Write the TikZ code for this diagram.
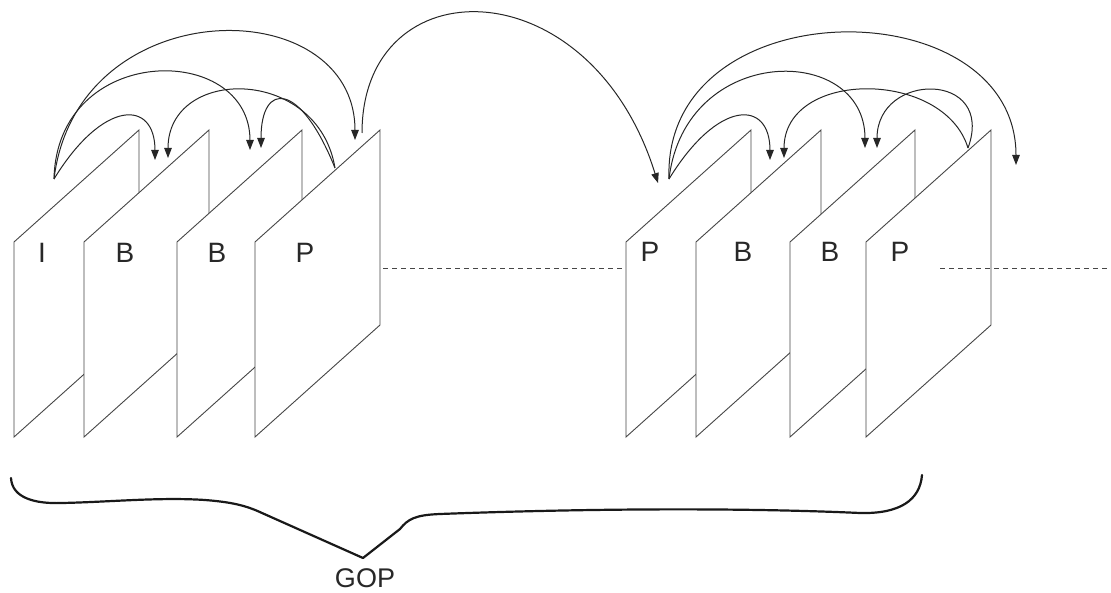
\documentclass[tikz,border=0pt]{standalone}
\usepackage{fontspec}
\setsansfont{Liberation Sans}
\usetikzlibrary{arrows.meta}
\definecolor{linegray}{RGB}{70,70,70}
\definecolor{textgray}{RGB}{40,40,40}

\begin{document}
\begin{tikzpicture}[
    x=1pt, y=-1pt,
    vframe/.style={draw=linegray, fill=white, line width=0.9pt, line join=miter},
    ftype/.style={text=textgray, font=\sffamily\fontsize{28}{30}\selectfont, inner sep=0pt},
    pred/.style={-{Triangle[length=10pt,width=7.5pt]}, draw=black!85, line width=1pt},
    gopline/.style={draw=linegray, line width=0.8pt, dash pattern=on 5pt off 4pt},
    gopbrace/.style={draw=black!90, line width=2.2pt, line join=round, line cap=round}
]
\useasboundingbox (0,0) rectangle (1111,593);

% dashed link between the two groups
\coordinate (gapL) at (383,268);
\coordinate (gapR) at (626,268);
\draw[gopline] (gapL) -- (gapR);

% frames, back to front
\foreach \x/\n in {14/f1,84/f2,177/f3,255/f4,626/f5,696/f6,790/f7,866/f8}{
  \draw[vframe] (\x,437) coordinate (\n) -- (\x,242) -- ++(125,-112) -- ++(0,195) -- cycle;
}

% frame types
\node[ftype] (tI)  at (42,253)  {I};
\node[ftype] (tB1) at (125,253) {B};
\node[ftype] (tB2) at (217,253) {B};
\node[ftype] (tP1) at (305,253) {P};
\node[ftype] (tP2) at (650,252) {P};
\node[ftype] (tB3) at (743,252) {B};
\node[ftype] (tB4) at (830,252) {B};
\node[ftype] (tP3) at (900,252) {P};

% dashed line after the second group
\coordinate (tailL) at (940,268);
\coordinate (tailR) at (1111,268);
\draw[gopline] (tailL) -- (tailR);

% arrow ends
\coordinate (s1) at (54,179);
\coordinate (s2) at (335,168);
\coordinate (s3) at (362,133);
\coordinate (s4) at (669,179);
\coordinate (s5) at (968,148);
\coordinate (e1) at (155,160);
\coordinate (e2) at (168,158);
\coordinate (e3) at (250,150);
\coordinate (e4) at (261,148);
\coordinate (e5) at (355,140);
\coordinate (e6) at (658,183);
\coordinate (e7) at (770,160);
\coordinate (e8) at (784,158);
\coordinate (e9) at (865,148);
\coordinate (e10) at (877,148);
\coordinate (e11) at (1016,165);

% references, first group
\draw[pred] (s1) .. controls (103,99) and (155,99) .. (e1);
\draw[pred] (s1) .. controls (57,42) and (250,42) .. (e3);
\draw[pred] (s1) .. controls (77,-10) and (355,-10) .. (e5);
\draw[pred] (s2) .. controls (318,66) and (168,66) .. (e2);
\draw[pred] (s2) .. controls (300,81) and (261,81) .. (e4);
\draw[pred] (s3) .. controls (362,-35) and (590,-35) .. (e6);

% references, second group
\draw[pred] (s4) .. controls (718,99) and (770,99) .. (e7);
\draw[pred] (s4) .. controls (685,43) and (865,43) .. (e9);
\draw[pred] (s4) .. controls (662,-13) and (1016,-13) .. (e11);
\draw[pred] (s5) .. controls (944,69) and (784,69) .. (e8);
\draw[pred] (s5) .. controls (996,71) and (877,71) .. (e10);

% GOP brace
\coordinate (bL) at (11,478);
\coordinate (bTip) at (363,558);
\coordinate (bR) at (922,475);
\draw[gopbrace] (bL) .. controls (12,498) and (35,504) .. (62,503)
  .. controls (110,502) and (160,497) .. (205,500)
  .. controls (230,502) and (245,505) .. (262,513)
  -- (bTip) -- (400,529)
  .. controls (408,519) and (415,515) .. (440,514)
  .. controls (600,508) and (750,508) .. (860,513)
  .. controls (900,514) and (920,500) .. (bR);
\node[ftype, font=\sffamily\fontsize{27}{30}\selectfont] (gop) at (365,578) {GOP};
\end{tikzpicture}
\end{document}
